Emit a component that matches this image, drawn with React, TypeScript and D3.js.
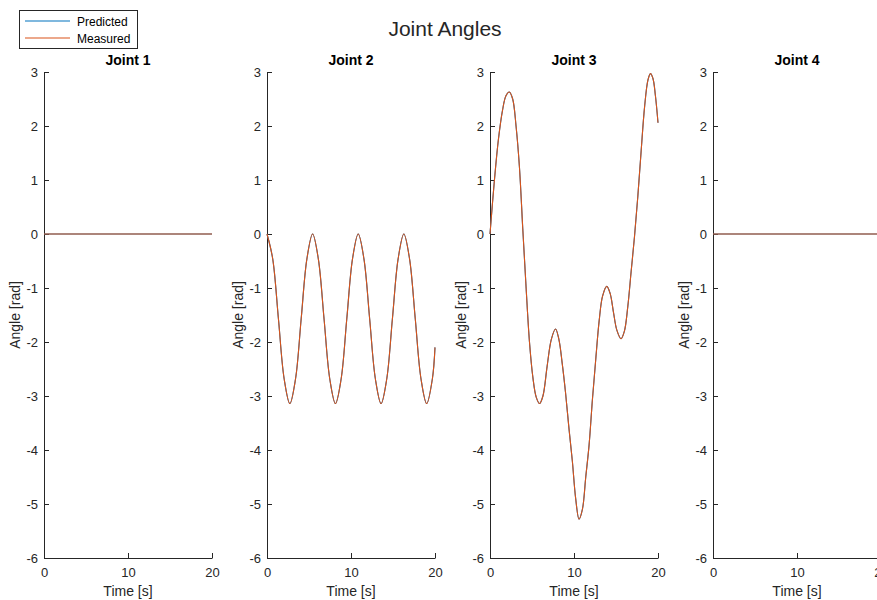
import React, { useRef, useEffect } from 'react';
import * as d3 from 'd3';

// Joint 1 and 4 stay at zero for the whole run
const flatTime = [0, 20];
const flatAngle = [0, 0];

// Joint 2: steady oscillation between 0 and -pi
const j2Time = [0, 0.68, 1.36, 2.04, 2.72, 3.4, 4.07, 4.75, 5.43, 6.11, 6.79, 7.47, 8.15, 8.83, 9.5, 10.18,
  10.86, 11.54, 12.22, 12.9, 13.58, 14.26, 14.93, 15.61, 16.29, 16.97, 17.65, 18.33, 19.01, 19.69, 20];
const j2Angle = [0, -0.46, -1.57, -2.68, -3.14, -2.68, -1.57, -0.46, 0, -0.46, -1.57, -2.68, -3.14, -2.68, -1.57, -0.46,
  0, -0.46, -1.57, -2.68, -3.14, -2.68, -1.57, -0.46, 0, -0.46, -1.57, -2.68, -3.14, -2.68, -2.1];

// Joint 3
const j3Time = [0, 0.5, 1.0, 1.5, 1.9, 2.3, 2.7, 3.1, 3.5, 3.9, 4.3, 4.7, 5.1, 5.5, 5.9, 6.3, 6.8, 7.3, 7.8,
  8.2, 8.6, 9.0, 9.4, 9.8, 10.2, 10.6, 11.0, 11.4, 11.8, 12.2, 12.6, 13.0, 13.4, 13.9, 14.3, 14.7, 15.1,
  15.6, 16.0, 16.4, 16.8, 17.2, 17.6, 18.0, 18.4, 18.8, 19.1, 19.4, 19.7, 20];
const j3Angle = [0, 0.95, 1.75, 2.3, 2.56, 2.63, 2.5, 2.0, 1.25, 0.1, -1.0, -2.0, -2.65, -3.02, -3.14, -3.0, -2.45,
  -1.95, -1.76, -1.95, -2.4, -2.95, -3.6, -4.2, -4.9, -5.28, -5.1, -4.5, -3.9, -3.05, -2.3, -1.6, -1.15,
  -0.97, -1.1, -1.45, -1.78, -1.94, -1.8, -1.35, -0.7, -0.05, 0.7, 1.55, 2.35, 2.85, 2.97, 2.88, 2.55, 2.06];

const jointNames = ['Joint 1', 'Joint 2', 'Joint 3', 'Joint 4'];
const jointTimes = [flatTime, j2Time, j3Time, flatTime];
const predictedAngles = [flatAngle, j2Angle, j3Angle, flatAngle];
const measuredAngles = [flatAngle, j2Angle, j3Angle, flatAngle];

const yTicks = [-6, -5, -4, -3, -2, -1, 0, 1, 2, 3];
const xTicks = [0, 10, 20];
const seriesNames = ['Predicted', 'Measured'];
const seriesColors = ['#0072BD', '#D95319'];

const W = 877;
const H = 600;
const FONT = "'Liberation Sans', Arial, Helvetica, sans-serif";
const AXIS_COLOR = '#262626';

export default function App() {
  const svgRef = useRef<SVGSVGElement>(null);

  useEffect(() => {
    if (!svgRef.current) return;
    const svg = d3.select(svgRef.current);
    svg.selectAll('*').remove();

    // subplot geometry
    const firstLeft = 44;
    const panelW = 168;
    const panelStep = 223;
    const top = 72;
    const bottom = 558;

    const y = d3.scaleLinear().domain([-6, 3]).range([bottom, top]);
    // plain hyphen minus, like the original
    const fmt = (d: d3.NumberValue) => String(d);

    jointNames.forEach((name, i) => {
      const left = firstLeft + i * panelStep;
      const x = d3.scaleLinear().domain([0, 20]).range([left, left + panelW]);
      const g = svg.append('g');

      // y axis, ticks pointing inward
      const yAxis = g.append('g')
        .attr('transform', `translate(${left},0)`)
        .call(d3.axisLeft(y).tickValues(yTicks).tickFormat(fmt).tickSizeInner(-5).tickSizeOuter(0).tickPadding(6));

      const xAxis = g.append('g')
        .attr('transform', `translate(0,${bottom})`)
        .call(d3.axisBottom(x).tickValues(xTicks).tickFormat(fmt).tickSizeInner(-5).tickSizeOuter(0).tickPadding(10));

      [yAxis, xAxis].forEach(a => {
        a.select('.domain').attr('stroke', AXIS_COLOR);
        a.selectAll('.tick line').attr('stroke', AXIS_COLOR);
        a.selectAll('.tick text')
          .attr('fill', AXIS_COLOR)
          .attr('font-size', '13px')
          .attr('font-family', FONT);
      });

      // lines: predicted first, measured drawn on top
      const line = d3.line<number>()
        .x((_, k) => x(jointTimes[i][k]))
        .y(d => y(d))
        .curve(d3.curveCatmullRom.alpha(0.5));

      [predictedAngles[i], measuredAngles[i]].forEach((vals, s) => {
        g.append('path')
          .datum(vals)
          .attr('d', line)
          .attr('fill', 'none')
          .attr('stroke', seriesColors[s])
          .attr('stroke-width', 1.1);
      });

      g.append('text')
        .attr('x', (left + left + panelW) / 2)
        .attr('y', 65)
        .attr('text-anchor', 'middle')
        .attr('font-family', FONT)
        .attr('font-size', '14px')
        .attr('font-weight', 'bold')
        .attr('fill', '#000')
        .text(name);

      g.append('text')
        .attr('x', (left + left + panelW) / 2)
        .attr('y', 596)
        .attr('text-anchor', 'middle')
        .attr('font-family', FONT)
        .attr('font-size', '14px')
        .attr('fill', AXIS_COLOR)
        .text('Time [s]');

      g.append('text')
        .attr('transform', `translate(${left - 24},${(top + bottom) / 2}) rotate(-90)`)
        .attr('text-anchor', 'middle')
        .attr('font-family', FONT)
        .attr('font-size', '14px')
        .attr('fill', AXIS_COLOR)
        .text('Angle [rad]');
    });

    // figure title
    svg.append('text')
      .attr('x', 445)
      .attr('y', 36)
      .attr('text-anchor', 'middle')
      .attr('font-family', FONT)
      .attr('font-size', '21px')
      .attr('fill', AXIS_COLOR)
      .text('Joint Angles');

    // legend
    const legendG = svg.append('g');
    legendG.append('rect')
      .attr('x', 19.5)
      .attr('y', 10.5)
      .attr('width', 118)
      .attr('height', 38)
      .attr('fill', 'white')
      .attr('stroke', AXIS_COLOR)
      .attr('stroke-width', 1);

    seriesNames.forEach((s, k) => {
      const ly = 21 + k * 17;
      legendG.append('line')
        .attr('x1', 25)
        .attr('x2', 70)
        .attr('y1', ly)
        .attr('y2', ly)
        .attr('stroke', seriesColors[k])
        .attr('stroke-width', 1.1);
      legendG.append('text')
        .attr('x', 77)
        .attr('y', ly + 4.5)
        .attr('font-family', FONT)
        .attr('font-size', '12px')
        .attr('fill', '#000')
        .text(s);
    });
  }, []);

  return (
    <div style={{ position: 'fixed', left: 0, top: 0, width: W, height: H, background: 'white' }}>
      <svg ref={svgRef} width={W} height={H} style={{ display: 'block', overflow: 'hidden' }}></svg>
    </div>
  );
}
